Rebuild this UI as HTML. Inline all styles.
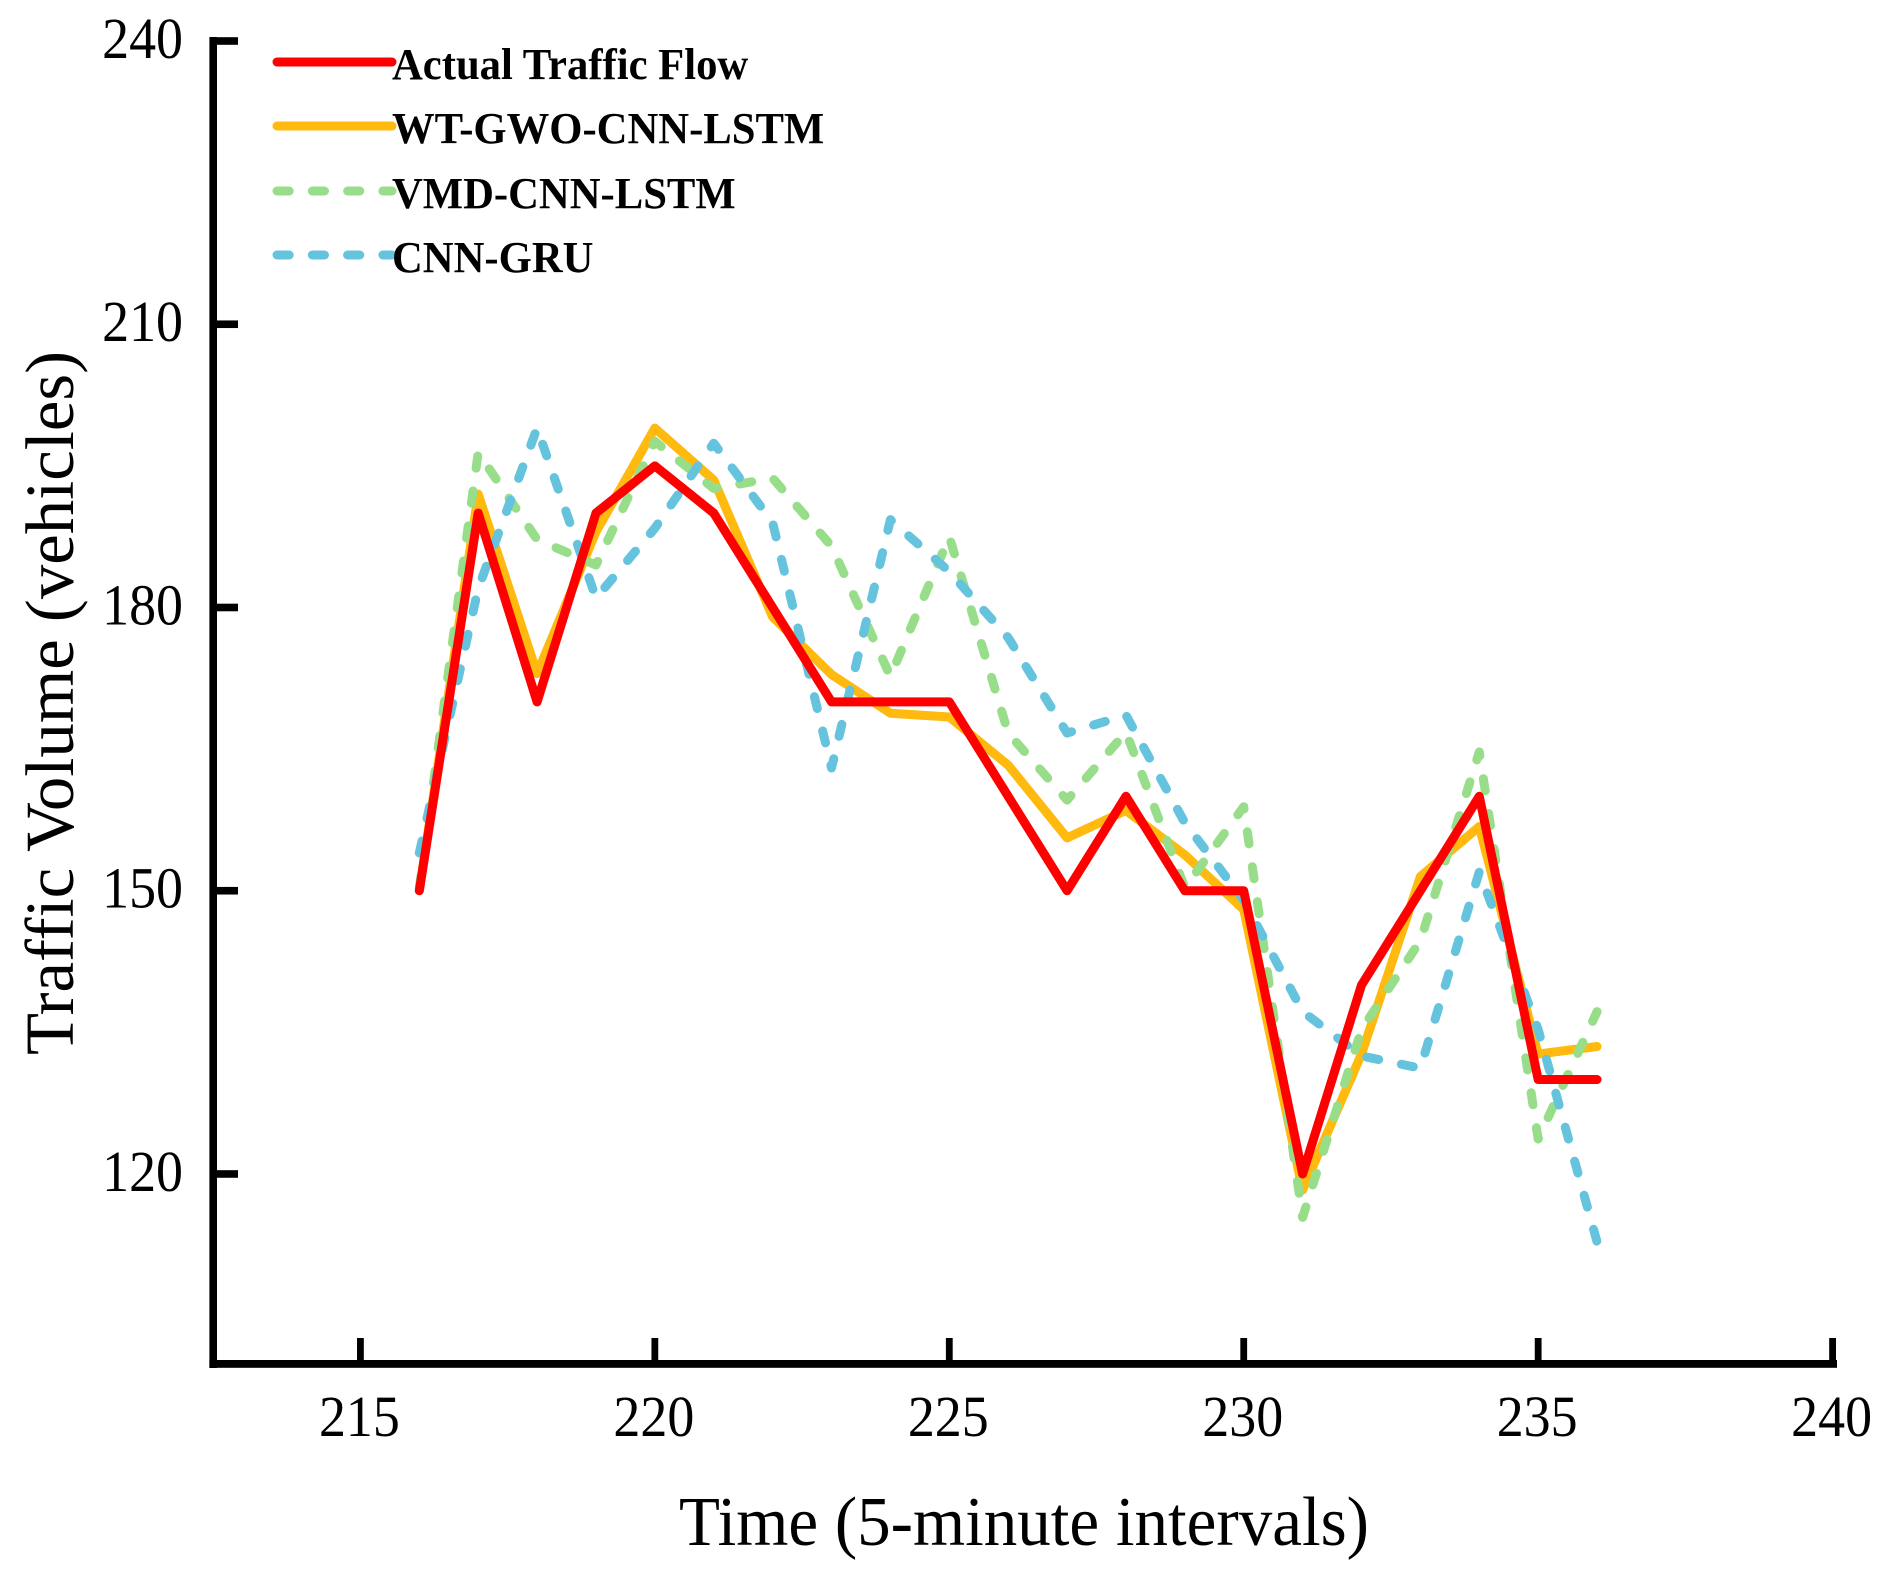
<!DOCTYPE html>
<html lang="en">
<head>
<meta charset="utf-8">
<title>Traffic Volume Chart</title>
<style>
html,body{margin:0;padding:0;background:#fff;}
svg{display:block;}
text{font-family:"Liberation Serif",serif;fill:#000;}
</style>
</head>
<body>
<svg id="chart" width="1892" height="1574" viewBox="0 0 1892 1574" xmlns="http://www.w3.org/2000/svg">
<rect width="1892" height="1574" fill="#fff"/>
<g id="series-layer"></g>
<g id="axes-layer"></g>
<text x="1024" y="1545" font-size="70" text-anchor="middle" textLength="690" lengthAdjust="spacingAndGlyphs">Time (5-minute intervals)</text>
<text transform="translate(73,703) rotate(-90)" font-size="69" text-anchor="middle" textLength="704" lengthAdjust="spacingAndGlyphs">Traffic Volume (vehicles)</text>
<g id="legend-layer"></g>
</svg>
<script>
const timeSteps = [216,217,218,219,220,221,222,223,224,225,226,227,228,229,230,231,232,233,234,235,236];
const actualFlow = [150,190,170,190,195,190,180,170,170,170,160,150,160,150,150,120,140,150,160,130,130];
const wtGwoCnnLstm = [150,192,173,188,199,193.5,179,172.9,168.8,168.4,163.3,155.6,158.5,153.8,148,118.3,132.7,151.5,156.8,132.7,133.5];
const vmdCnnLstm = [150.3,196.4,187.2,184.5,197.6,192.6,193.7,186.5,172.7,187.5,166.7,159.6,166.8,150.3,158.9,115.4,135.3,144.7,164.7,123.7,137.2];
const cnnGru = [154,182,199,181,188.4,197.4,189,163,189.3,183.8,176.8,166.7,168.6,157.2,149,137.2,132.5,131.2,152,135.3,112.8];
const xTickValues = [215,220,225,230,235,240];
const yTickValues = [240,210,180,150,120];
const legendLabels = ['Actual Traffic Flow','WT-GWO-CNN-LSTM','VMD-CNN-LSTM','CNN-GRU'];

const NS = 'http://www.w3.org/2000/svg';
const X_MIN = 212.5, X_MAX = 240, Y_MIN = 100, Y_MAX = 240;
const PX_LEFT = 213.2, PX_RIGHT = 1832.6, PX_TOP = 41, PX_BOTTOM = 1362.8;
function xScale(v){ return PX_LEFT + (v - X_MIN) / (X_MAX - X_MIN) * (PX_RIGHT - PX_LEFT); }
function yScale(v){ return PX_BOTTOM - (v - Y_MIN) / (Y_MAX - Y_MIN) * (PX_BOTTOM - PX_TOP); }
function makeEl(tag, attrs, parent){
  const el = document.createElementNS(NS, tag);
  for (const k in attrs) el.setAttribute(k, attrs[k]);
  parent.appendChild(el);
  return el;
}

const seriesLayer = document.getElementById('series-layer');
const axesLayer = document.getElementById('axes-layer');
const legendLayer = document.getElementById('legend-layer');
const ORANGE = '#FFB90F', GREEN = '#98DE8A', BLUE = '#66C3DD', RED = '#FF0000';
const DASH = '12.2 23.1';
const LINE_WIDTH = 9;

function drawSeries(values, color, dash, name){
  const d = values.map(function(v, i){ return (i ? 'L' : 'M') + xScale(timeSteps[i]).toFixed(2) + ' ' + yScale(v).toFixed(2); }).join('');
  const p = makeEl('path', {d: d, fill: 'none', stroke: color, 'stroke-width': LINE_WIDTH, 'stroke-linecap': 'round', 'stroke-linejoin': 'round'}, seriesLayer);
  if (dash) p.setAttribute('stroke-dasharray', dash);
  
  
}
drawSeries(wtGwoCnnLstm, ORANGE, null, 'series-wt-gwo-cnn-lstm');
drawSeries(vmdCnnLstm, GREEN, DASH, 'series-vmd-cnn-lstm');
drawSeries(cnnGru, BLUE, DASH, 'series-cnn-gru');
drawSeries(actualFlow, RED, null, 'series-actual-traffic-flow');

const yAxisLine = makeEl('rect', {x: 209.4, y: 37, width: 7.6, height: 1331, fill: '#000'}, axesLayer);


const xAxisLine = makeEl('rect', {x: 209.4, y: 1360, width: 1627.6, height: 7.8, fill: '#000'}, axesLayer);



xTickValues.forEach(function(v){
  const px = xScale(v);
  const t = makeEl('rect', {x: px - 3.4, y: 1338, width: 6.8, height: 24, fill: '#000'}, axesLayer);
  
  
  const l = makeEl('text', {transform: 'translate(' + (px - 1) + ',1436) scale(0.93,1)', 'font-size': 58, 'text-anchor': 'middle'}, axesLayer);
  l.textContent = String(v);
  
  
});
yTickValues.forEach(function(v){
  const py = yScale(v);
  const t = makeEl('rect', {x: 215, y: py - 3.8, width: 23, height: 7.6, fill: '#000'}, axesLayer);
  
  
  const l = makeEl('text', {transform: 'translate(183,' + (py + 17) + ') scale(0.93,1)', 'font-size': 58, 'text-anchor': 'end'}, axesLayer);
  l.textContent = String(v);
  
  
});

const legendColors = [RED, ORANGE, GREEN, BLUE];
const legendDashes = [null, null, DASH, DASH];
const legendLineY = [62, 126, 191, 255];
legendLabels.forEach(function(label, i){
  const ln = makeEl('line', {x1: 277, x2: 392, y1: legendLineY[i], y2: legendLineY[i], stroke: legendColors[i], 'stroke-width': LINE_WIDTH, 'stroke-linecap': 'round'}, legendLayer);
  if (legendDashes[i]) ln.setAttribute('stroke-dasharray', legendDashes[i]);
  
  
  const tx = makeEl('text', {transform: 'translate(392,' + (legendLineY[i] + 17) + ') scale(0.97,1)', 'font-size': 44, 'font-weight': 'bold'}, legendLayer);
  tx.textContent = label;
  
  
});
</script>
</body>
</html>
